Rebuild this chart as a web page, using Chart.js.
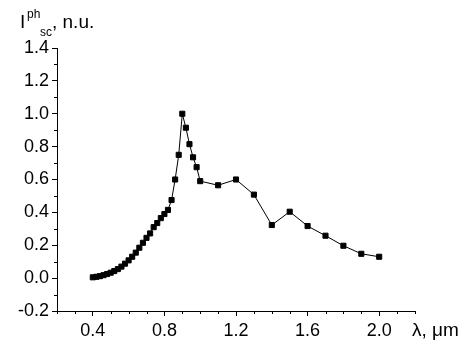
<!DOCTYPE html>
<html>
<head>
<meta charset="utf-8">
<script src="https://cdn.jsdelivr.net/npm/chart.js@4"></script>
<style>
  html, body { margin: 0; padding: 0; background: #fff; }
  #wrap { width: 467px; height: 341px; }
</style>
</head>
<body>
<div id="wrap"><canvas id="photoChart"></canvas></div>
<script>
// Photocurrent spectrum, normalised units
const wavelengths = [0.40, 0.42, 0.44, 0.46, 0.48, 0.50, 0.52, 0.54, 0.56, 0.58,
                     0.60, 0.62, 0.64, 0.66, 0.68, 0.70, 0.72, 0.74, 0.76, 0.78,
                     0.80, 0.82, 0.84, 0.86, 0.88, 0.90, 0.92, 0.94, 0.96, 0.98,
                     1.00, 1.10, 1.20, 1.30, 1.40, 1.50, 1.60, 1.70, 1.80, 1.90, 2.00];
const photocurrent = [0.005, 0.008, 0.012, 0.018, 0.025, 0.033, 0.043, 0.055, 0.070, 0.088,
                      0.108, 0.130, 0.155, 0.185, 0.215, 0.245, 0.272, 0.310, 0.335, 0.365,
                      0.390, 0.415, 0.475, 0.600, 0.750, 1.000, 0.915, 0.815, 0.735, 0.675,
                      0.590, 0.565, 0.600, 0.508, 0.323, 0.404, 0.317, 0.258, 0.197, 0.148, 0.130];
const xTickLabels = ['0.4', '0.8', '1.2', '1.6', '2.0'];
const yTickLabels = ['-0.2', '0.0', '0.2', '0.4', '0.6', '0.8', '1.0', '1.2', '1.4'];

const FONT = 'Liberation Sans, Arial, sans-serif';

const isMajorX = v => xTickLabels.includes(v.toFixed(1));
const isMajorY = v => yTickLabels.includes((Math.abs(v) < 1e-9 ? 0 : v).toFixed(1));

// axis titles drawn by hand (needs super/subscripts), plus short minor ticks
const titlesPlugin = {
    id: 'titles',
    afterDraw(chart) {
        const ctx = chart.ctx;
        const xs = chart.scales.x, ys = chart.scales.y;
        ctx.save();
        ctx.strokeStyle = '#000';
        ctx.lineWidth = 1;
        ctx.beginPath();
        xs.ticks.forEach(t => {
            if (isMajorX(t.value)) return;
            const px = Math.round(xs.getPixelForValue(t.value)) + 0.5;
            ctx.moveTo(px, xs.top);
            ctx.lineTo(px, xs.top + 3);
        });
        ys.ticks.forEach(t => {
            if (isMajorY(t.value)) return;
            const py = Math.round(ys.getPixelForValue(t.value)) + 0.5;
            ctx.moveTo(ys.right, py);
            ctx.lineTo(ys.right - 3, py);
        });
        ctx.stroke();

        ctx.fillStyle = '#000';
        ctx.textBaseline = 'alphabetic';
        ctx.font = '19px ' + FONT;
        ctx.fillText('I', 20, 28);
        ctx.font = '12px ' + FONT;
        ctx.fillText('ph', 27, 18);
        ctx.fillText('sc', 40, 36);
        ctx.font = '19px ' + FONT;
        ctx.fillText(', n.u.', 52, 28);
        ctx.fillText('\u03bb, \u03bcm', 412, 336);
        ctx.restore();
    }
};

const ctx = document.getElementById('photoChart').getContext('2d');

new Chart(ctx, {
    type: 'scatter',
    data: {
        datasets: [{
            data: wavelengths.map((w, i) => ({ x: w, y: photocurrent[i] })),
            showLine: true,
            borderColor: '#000',
            borderWidth: 1,
            pointStyle: 'rect',
            pointRadius: 3.6,
            pointBorderWidth: 1,
            pointBackgroundColor: '#000',
            pointBorderColor: '#000'
        }]
    },
    options: {
        responsive: true,
        maintainAspectRatio: false,
        animation: false,
        layout: { padding: { top: 48, right: 52, left: 0, bottom: 0 } },
        plugins: { legend: { display: false }, tooltip: { enabled: false } },
        scales: {
            x: {
                type: 'linear',
                min: 0.2,
                max: 2.2,
                afterFit: s => { s.height = 30; },
                ticks: {
                    stepSize: 0.1,
                    autoSkip: false,
                    maxRotation: 0,
                    padding: 4,
                    color: '#000',
                    font: { family: FONT, size: 18 },
                    callback: v => isMajorX(v) ? v.toFixed(1) : ''
                },
                grid: {
                    drawOnChartArea: false,
                    tickLength: 5,
                    tickColor: c => (c.tick && isMajorX(c.tick.value)) ? '#000' : 'rgba(0,0,0,0)'
                },
                border: { color: '#000', width: 1 }
            },
            y: {
                min: -0.2,
                max: 1.4,
                afterFit: s => { s.width = 57; },
                ticks: {
                    stepSize: 0.1,
                    autoSkip: false,
                    padding: 3,
                    color: '#000',
                    font: { family: FONT, size: 18 },
                    callback: v => isMajorY(v) ? (Math.abs(v) < 1e-9 ? 0 : v).toFixed(1) : ''
                },
                grid: {
                    drawOnChartArea: false,
                    tickLength: 5,
                    tickColor: c => (c.tick && isMajorY(c.tick.value)) ? '#000' : 'rgba(0,0,0,0)'
                },
                border: { color: '#000', width: 1 }
            }
        }
    },
    plugins: [titlesPlugin]
});
</script>
</body>
</html>
